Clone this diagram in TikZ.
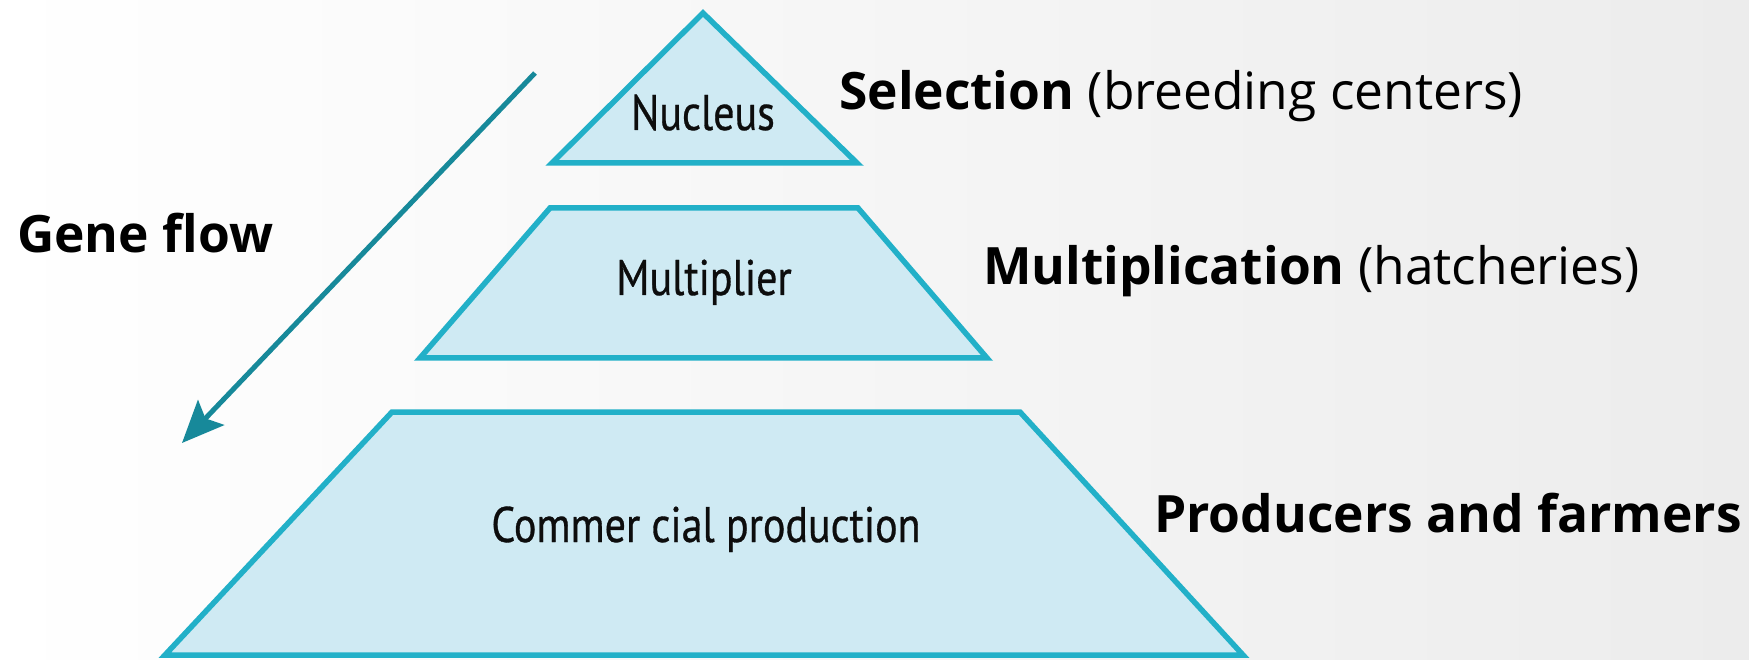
\documentclass[tikz,border=0pt]{standalone}
\usepackage{fontspec}
\setmainfont{Open Sans}
\newfontfamily\condfont[FakeStretch=0.84,FakeBold=0.6]{PT Sans}
\usetikzlibrary{arrows.meta}
\definecolor{tierfill}{HTML}{CFEAF3}
\definecolor{tierline}{HTML}{22B0C8}
\definecolor{flowcol}{HTML}{17899A}
\definecolor{bgright}{HTML}{ECECEC}
\tikzset{
  tier/.style={draw=tierline, fill=tierfill, line width=5.5pt, line join=miter},
  tiertext/.style={anchor=base, inner sep=0pt, font=\condfont\fontsize{50}{60}\selectfont, text=black!95},
  sidelabel/.style={anchor=base west, inner sep=0pt, font=\fontsize{51.5}{61}\selectfont, text=black},
  flow/.style={draw=flowcol, line width=5pt, -{Stealth[length=42pt,width=36pt,inset=8pt]}}
}
\begin{document}
\begin{tikzpicture}[x=1pt,y=-1pt]
\useasboundingbox (0,0) rectangle (1749,660);
\shade[left color=white, right color=bgright] (0,0) rectangle (1749,660);
% tiers
\draw[tier] (703,13) -- (857,163) -- (552,163) -- cycle;
\draw[tier] (550,208) -- (858,208) -- (987,358) -- (420,358) -- cycle;
\draw[tier] (392,412) -- (1020,412) -- (1243,655) -- (165,655) -- cycle;
% tier texts
\node[tiertext] (nucleus) at (703,130) {Nucleus};
\node[tiertext] (multiplier) at (704,295) {Multiplier};
\node[tiertext] (commercial) at (706,542) {Commer cial production};
% side labels
\node[sidelabel] (selection) at (839,110) {\textbf{Selection} (breeding centers)};
\node[sidelabel] (multiplication) at (983,285) {\textbf{Multiplication} (hatcheries)};
\node[sidelabel] (producers) at (1154,532) {\textbf{Producers and farmers}};
\node[sidelabel] (geneflow) at (17,253) {\textbf{Gene flow}};
% gene flow arrow
\coordinate (flowstart) at (535,73);
\coordinate (flowend) at (182,443);
\draw[flow] (flowstart) -- (flowend);
\end{tikzpicture}
\end{document}
